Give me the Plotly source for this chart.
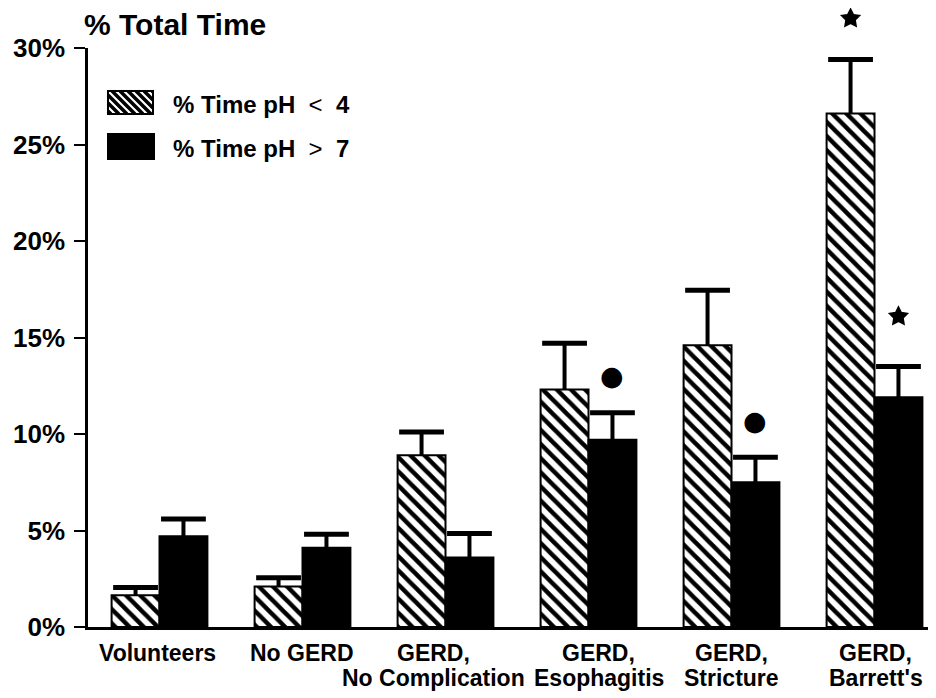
import math
import plotly.graph_objects as go

# ---------------- data ----------------
cat_line1 = ["Volunteers", "No GERD", "GERD,", "GERD,", "GERD,", "GERD,"]
cat_line2 = ["", "", "No Complication", "Esophagitis", "Stricture", "Barrett's"]
pct_time_ph_lt4 = [1.65, 2.1, 8.9, 12.3, 14.6, 26.6]
err_ph_lt4 = [0.4, 0.45, 1.2, 2.4, 2.85, 2.8]
pct_time_ph_gt7 = [4.7, 4.1, 3.6, 9.7, 7.5, 11.9]
err_ph_gt7 = [0.9, 0.7, 1.25, 1.4, 1.3, 1.6]
sig_lt4 = ["", "", "", "", "", "star"]
sig_gt7 = ["", "", "", "circle", "circle", "star"]
y_ticks = [0, 5, 10, 15, 20, 25, 30]
y_ticktext = ["0%", "5%", "10%", "15%", "20%", "25%", "30%"]
series_names = ["% Time pH < 4", "% Time pH > 7"]

# ---------------- layout constants (page pixels) ----------------
OFF = 8                      # default body margin of the page
W, H = 936 - OFF, 698 - OFF
PL, PR, PT, PB = 88, 936, 48, 627   # plot area in page pixels
PW, PH = PR - PL, PB - PT
BARGAP = 0.33
BW = (1 - BARGAP) / 2
YMAX = 30
FONT = "Liberation Sans"
LABEL_XSHIFT = [-2, -1, -12, 10, 0, 1]     # label centring as printed
LINE1_Y, LINE2_Y = 653, 678
STAR_GAP, STAR_R, STAR_RIN = 50, 9.5, 4.8
CIRCLE_GAP = 37

xs = list(range(len(cat_line1)))
x_lt4 = [x - BW / 2 for x in xs]
x_gt7 = [x + BW / 2 for x in xs]


def px(x):
    return (x - PL) / PW


def py(y):
    return (PB - y) / PH


fig = go.Figure()

fig.add_trace(go.Bar(
    x=xs, y=pct_time_ph_lt4, name=series_names[0], showlegend=False,
    marker=dict(color="white", line=dict(color="black", width=2),
                pattern=dict(shape="\\", size=10, solidity=0.45,
                             fgcolor="black", bgcolor="white", fillmode="replace")),
    error_y=dict(type="data", symmetric=False, array=err_ph_lt4,
                 arrayminus=[0] * len(xs), width=0, thickness=4, color="black"),
))
fig.add_trace(go.Bar(
    x=xs, y=pct_time_ph_gt7, name=series_names[1], showlegend=False,
    marker=dict(color="black", line=dict(color="black", width=2)),
    error_y=dict(type="data", symmetric=False, array=err_ph_gt7,
                 arrayminus=[0] * len(xs), width=0, thickness=4, color="black"),
))

# error bar caps
top_lt4 = [v + e for v, e in zip(pct_time_ph_lt4, err_ph_lt4)]
top_gt7 = [v + e for v, e in zip(pct_time_ph_gt7, err_ph_gt7)]
fig.add_trace(go.Scatter(
    x=x_lt4 + x_gt7, y=top_lt4 + top_gt7,
    mode="markers", showlegend=False, hoverinfo="skip", cliponaxis=False,
    marker=dict(symbol="line-ew", size=32, color="black",
                line=dict(width=5, color="black")),
))

annotations = []
shapes = []


def star_path(gap):
    pts = []
    for k in range(10):
        ang = math.pi / 2 + k * math.pi / 5
        r = STAR_R if k % 2 == 0 else STAR_RIN
        pts.append((r * math.cos(ang), gap + r * math.sin(ang)))
    return "M" + " L".join(f"{a:.2f},{b:.2f}" for a, b in pts) + " Z"


# significance marks (placed above the error-bar caps)
for xpos, tops, sig in [(x_lt4, top_lt4, sig_lt4), (x_gt7, top_gt7, sig_gt7)]:
    for xx, t, s in zip(xpos, tops, sig):
        if s == "star":
            cap_px = PB - t / YMAX * PH
            gap = min(STAR_GAP, cap_px - OFF - STAR_R - 1)   # keep inside the page
            shapes.append(dict(type="path", xref="x", yref="paper",
                               xsizemode="pixel", ysizemode="pixel",
                               xanchor=xx, yanchor=t / YMAX, path=star_path(gap),
                               fillcolor="black", line=dict(color="black", width=1.5)))
        elif s == "circle":
            annotations.append(dict(x=xx, y=t, xref="x", yref="y", text="●",
                                    showarrow=False, yanchor="middle", yshift=CIRCLE_GAP,
                                    font=dict(family="DejaVu Sans", size=27, color="black")))

# category labels
for x, t1, t2, dx in zip(xs, cat_line1, cat_line2, LABEL_XSHIFT):
    for t, yy in [(t1, LINE1_Y), (t2, LINE2_Y)]:
        if t:
            annotations.append(dict(x=x, y=py(yy), xref="x", yref="paper", text=t,
                                    showarrow=False, yanchor="middle", xshift=dx,
                                    font=dict(family=FONT, size=23, color="black",
                                              weight="bold")))
# axis title
annotations.append(dict(x=px(82), y=py(25), xref="paper", yref="paper",
                        text="% Total Time", showarrow=False, xanchor="left",
                        yanchor="middle",
                        font=dict(family=FONT, size=30, color="black", weight="bold")))


def legend_text(name):
    for op, ent in [("<", "&lt;"), (">", "&gt;")]:
        name = name.replace(f" {op} ", f"  <span style='font-weight:normal'>{ent}</span>  ")
    return name


# legend texts
for name, yy in zip(series_names, [104, 148]):
    annotations.append(dict(x=px(171), y=py(yy), xref="paper", yref="paper",
                            text=legend_text(name), showarrow=False, xanchor="left",
                            yanchor="middle",
                            font=dict(family=FONT, size=24, color="black", weight="bold")))

# legend swatches (decoration)
sx0, sx1, sy0, sy1 = 108, 153, 91, 114
shapes.append(dict(type="rect", xref="paper", yref="paper",
                   x0=px(sx0), x1=px(sx1), y0=py(sy1), y1=py(sy0),
                   fillcolor="white", line=dict(color="black", width=2)))
segs = []
c = sx0 - sy1 + 3
while c < sx1 - sy0:
    xa = max(sx0, c + sy0)
    xb = min(sx1, c + sy1)
    if xb > xa:
        segs.append(f"M{px(xa):.5f},{py(xa - c):.5f} L{px(xb):.5f},{py(xb - c):.5f}")
    c += 8
shapes.append(dict(type="path", xref="paper", yref="paper", path=" ".join(segs),
                   line=dict(color="black", width=3.5)))
shapes.append(dict(type="rect", xref="paper", yref="paper",
                   x0=px(sx0), x1=px(sx1), y0=py(sy1), y1=py(sy0),
                   fillcolor="rgba(0,0,0,0)", line=dict(color="black", width=2)))
shapes.append(dict(type="rect", xref="paper", yref="paper",
                   x0=px(108), x1=px(154), y0=py(159), y1=py(134),
                   fillcolor="black", line=dict(color="black", width=2)))

fig.update_layout(
    width=W, height=H,
    margin=dict(l=PL - OFF, r=0, t=PT - OFF, b=(H + OFF) - PB, pad=0),
    paper_bgcolor="white", plot_bgcolor="white",
    barmode="group", bargap=BARGAP, bargroupgap=0,
    annotations=annotations, shapes=shapes,
    showlegend=False,
    xaxis=dict(range=[-0.5, 5.43], tickvals=xs, showticklabels=False,
               showline=True, linecolor="black", linewidth=3, ticks="",
               showgrid=False, zeroline=False, fixedrange=True),
    yaxis=dict(range=[0, YMAX], tickvals=y_ticks, ticktext=y_ticktext,
               showline=True, linecolor="black", linewidth=2.5,
               ticks="outside", ticklen=11, tickwidth=2, tickcolor="black",
               ticklabelstandoff=4,
               showgrid=False, zeroline=False, fixedrange=True,
               tickfont=dict(family=FONT, size=26, color="black", weight="bold")),
)

fig.write_html("out.html")
